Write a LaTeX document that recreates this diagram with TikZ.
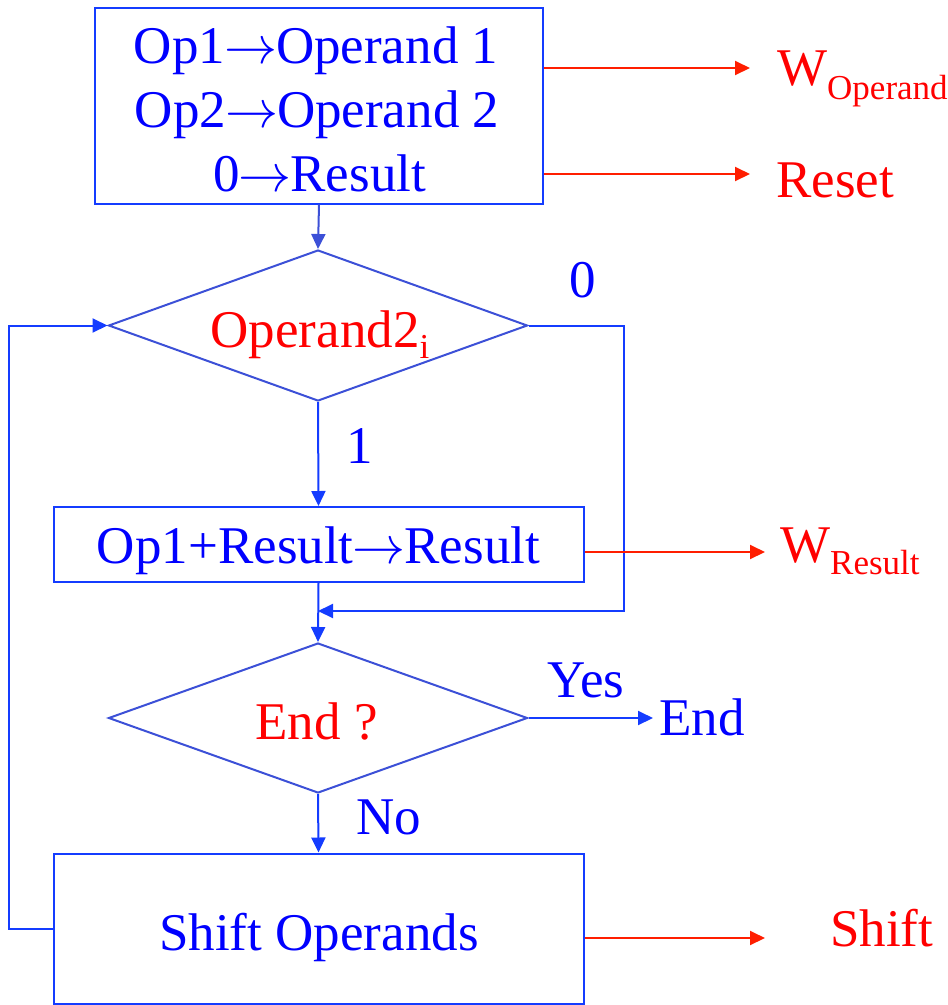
\RequirePackage{fix-cm}
\documentclass[tikz,border=0pt]{standalone}
\usepackage{fontspec}
\setmainfont{Liberation Serif}
\usetikzlibrary{arrows.meta,shapes.geometric}
\definecolor{txtblue}{RGB}{0,0,255}
\definecolor{boxblue}{RGB}{20,60,255}
\definecolor{lineblue}{RGB}{60,80,215}
\definecolor{txtred}{RGB}{255,0,0}
\definecolor{arrred}{RGB}{255,30,0}
\tikzset{
  box/.style={draw=boxblue, line width=2pt, inner sep=0pt},
  dia/.style={draw=lineblue, line width=2pt, diamond, shape aspect=2.8, inner sep=0pt},
  btext/.style={text=txtblue, inner sep=0pt, anchor=base, font=\fontsize{53}{63}\selectfont},
  rtext/.style={text=txtred, inner sep=0pt, anchor=base, font=\fontsize{53}{63}\selectfont},
  flow/.style={draw=boxblue, line width=2pt, -{Triangle[length=15pt,width=14pt]}},
  flowl/.style={draw=lineblue, line width=2pt, -{Triangle[length=15pt,width=14pt]}},
  sig/.style={draw=arrred, line width=2pt, -{Triangle[length=15pt,width=14pt]}},
}
\newcommand{\subtxt}[2]{\raisebox{-#1pt}{\fontsize{35}{35}\selectfont #2}}
\newcommand{\rarr}{\kern-1pt$\rightarrow$\kern-1pt}
\begin{document}
\begin{tikzpicture}[x=1pt,y=-1pt]
\useasboundingbox (0,0) rectangle (948,1005);
% boxes
\node[box, minimum width=448pt, minimum height=196pt] (b1) at (319,105.5) {};
\node[box, minimum width=530pt, minimum height=75pt] (b2) at (318.5,544.5) {};
\node[box, minimum width=530pt, minimum height=150pt] (b3) at (318.5,928.5) {};
% diamonds
\node[dia, minimum width=419pt, minimum height=151pt] (d1) at (318,325.5) {};
\node[dia, minimum width=419pt, minimum height=150pt] (d2) at (318,718) {};
% texts
\node[btext] (t1) at (316,63) {Op1\rarr Operand 1};
\node[btext] (t2) at (317,127) {Op2\rarr Operand 2};
\node[btext] (t3) at (319.5,191) {0\rarr Result};
\node[rtext] (td1) at (320,347) {Operand2\subtxt{11}{i}};
\node[btext] (l0) at (583,297) {0};
\node[btext] (l1) at (360,463) {1};
\node[btext] (t4) at (318.5,563) {Op1+Result\rarr Result};
\node[rtext] (td2) at (316.5,739) {End ?};
\node[btext] (lyes) at (586,697) {Yes};
\node[btext, anchor=base west] (tend) at (659,735) {End};
\node[btext] (lno) at (389,834) {No};
\node[btext] (t5) at (319,950) {Shift Operands};
\node[rtext, anchor=base west] (wop) at (777,85) {W\subtxt{14}{Operand}};
\node[rtext, anchor=base west] (rst) at (776,197) {Reset};
\node[rtext, anchor=base west] (wres) at (780,562) {W\subtxt{12}{Result}};
\node[rtext, anchor=base west] (shf) at (830,946) {Shift};
% coordinates
\coordinate (s1) at (750,68);
\coordinate (s2) at (750,174);
\coordinate (s3) at (765,552);
\coordinate (s4) at (765,938);
\coordinate (e1) at (653,718);
\coordinate (m1) at (318,611);
% flow
\draw[flowl] (b1.south) -- (d1.north);
\draw[flow] (d1.south) -- (b2.north);
\draw[flow] (b2.south) -- (d2.north);
\draw[flow] (d1.east) -- (624,325.5) |- (m1);
\draw[flow] (d2.east) -- (e1);
\draw[flow] (d2.south) -- (b3.north);
\draw[flow] (b3.west |- 0,929) -- (9,929) |- (d1.west);
% signals
\draw[sig] (b1.east |- s1) -- (s1);
\draw[sig] (b1.east |- s2) -- (s2);
\draw[sig] (b2.east |- s3) -- (s3);
\draw[sig] (b3.east |- s4) -- (s4);
\end{tikzpicture}
\end{document}
